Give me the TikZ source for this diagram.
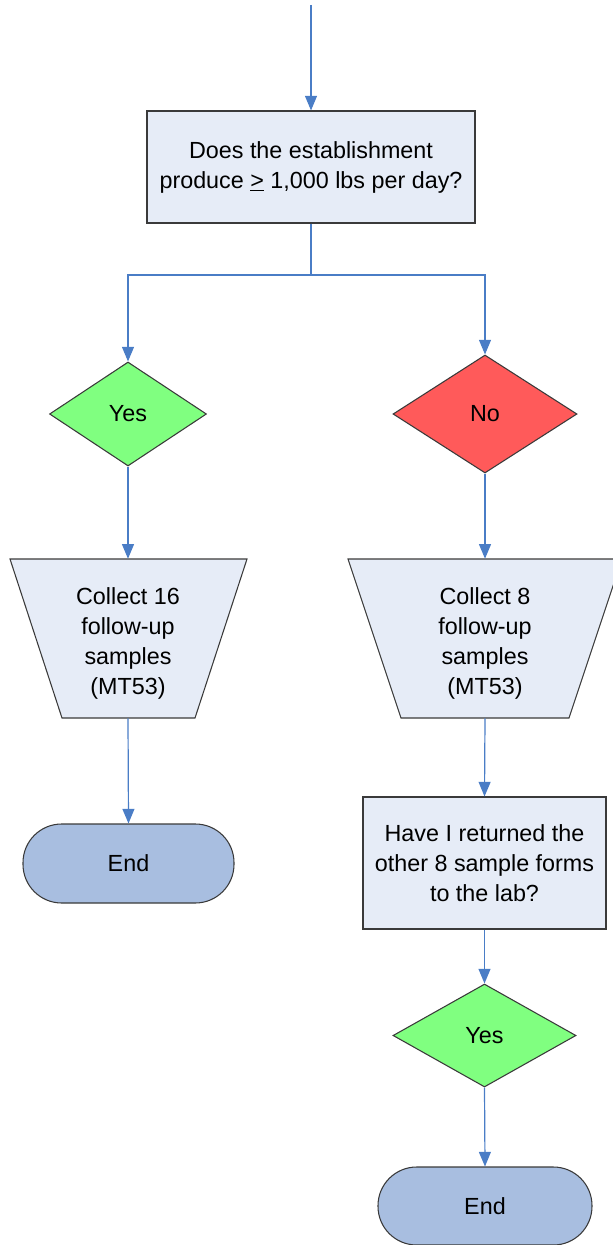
\documentclass[tikz,border=0pt]{standalone}
\usepackage{fontspec}
\setmainfont{Liberation Sans}
\usetikzlibrary{arrows.meta,shapes.geometric}
\definecolor{boxfill}{HTML}{E6ECF7}
\definecolor{yesfill}{HTML}{80FF80}
\definecolor{nofill}{HTML}{FF5A5A}
\definecolor{endfill}{HTML}{A8BEE0}
\definecolor{linecol}{HTML}{4A7DC6}
\definecolor{border}{HTML}{3A3A3A}
\begin{document}
\begin{tikzpicture}[x=0.75pt,y=-0.75pt,
  every node/.style={font=\fontsize{17.5}{22.5}\selectfont, align=center, inner sep=0pt},
  procbox/.style={draw=border, line width=0.8pt, fill=boxfill, rectangle},
  yesdia/.style={draw=border, line width=0.8pt, fill=yesfill, diamond},
  nodia/.style={draw=border, line width=0.8pt, fill=nofill, diamond},
  endbox/.style={draw=border, line width=0.8pt, fill=endfill, rectangle, rounded corners=29pt},
  trapbox/.style={rectangle},
  conn/.style={draw=linecol, line width=0.9pt, -{Triangle[width=9pt,length=11pt]}, color=linecol}
]
\useasboundingbox (0,0) rectangle (613,1245);
\coordinate (start) at (311,5);
\node[procbox, minimum width=246pt, minimum height=84pt] (q) at (311,167) {Does the establishment\\produce \underline{>} 1,000 lbs per day?};
\coordinate (split) at (311,275);
\node[yesdia, minimum width=117.75pt, minimum height=78pt] (yes1) at (128,414) {Yes};
\node[nodia, minimum width=138pt, minimum height=88.5pt] (no1) at (485,414) {No};
% trapezoids
\draw[draw=border, line width=0.8pt, fill=boxfill] (10,559) -- (247,559) -- (195,718) -- (62,718) -- cycle;
\draw[draw=border, line width=0.8pt, fill=boxfill] (348,559) -- (622,559) -- (569,718) -- (401,718) -- cycle;
\node[trapbox, minimum width=100pt, minimum height=119.25pt] (c16) at (128,638.5) {};
\node[trapbox, minimum width=100pt, minimum height=119.25pt] (c8) at (485,638.5) {};
\node at (128,643) {Collect 16\\follow-up\\samples\\(MT53)};
\node at (485,643) {Collect 8\\follow-up\\samples\\(MT53)};
\node[endbox, minimum width=158.25pt, minimum height=59.25pt] (end1) at (128.5,863.5) {End};
\node[procbox, minimum width=182.25pt, minimum height=99pt] (ret) at (484.5,863) {Have I returned the\\other 8 sample forms\\to the lab?};
\node[yesdia, minimum width=137.25pt, minimum height=77.25pt] (yes2) at (484.5,1035.5) {Yes};
\node[endbox, minimum width=160.5pt, minimum height=58.5pt] (end2) at (485,1206) {End};
% connectors
\draw[conn] (start) -- (q.north);
\draw[draw=linecol, line width=0.9pt] (q.south) -- (split);
\draw[conn] (split) -| (yes1.north);
\draw[conn] (split) -| (no1.north);
\draw[conn] (yes1.south) -- (c16.north);
\draw[conn] (no1.south) -- (c8.north);
\draw[conn] (c16.south) -- (end1.north);
\draw[conn] (c8.south) -- (ret.north);
\draw[conn] (ret.south) -- (yes2.north);
\draw[conn] (yes2.south) -- (end2.north);
\end{tikzpicture}
\end{document}
